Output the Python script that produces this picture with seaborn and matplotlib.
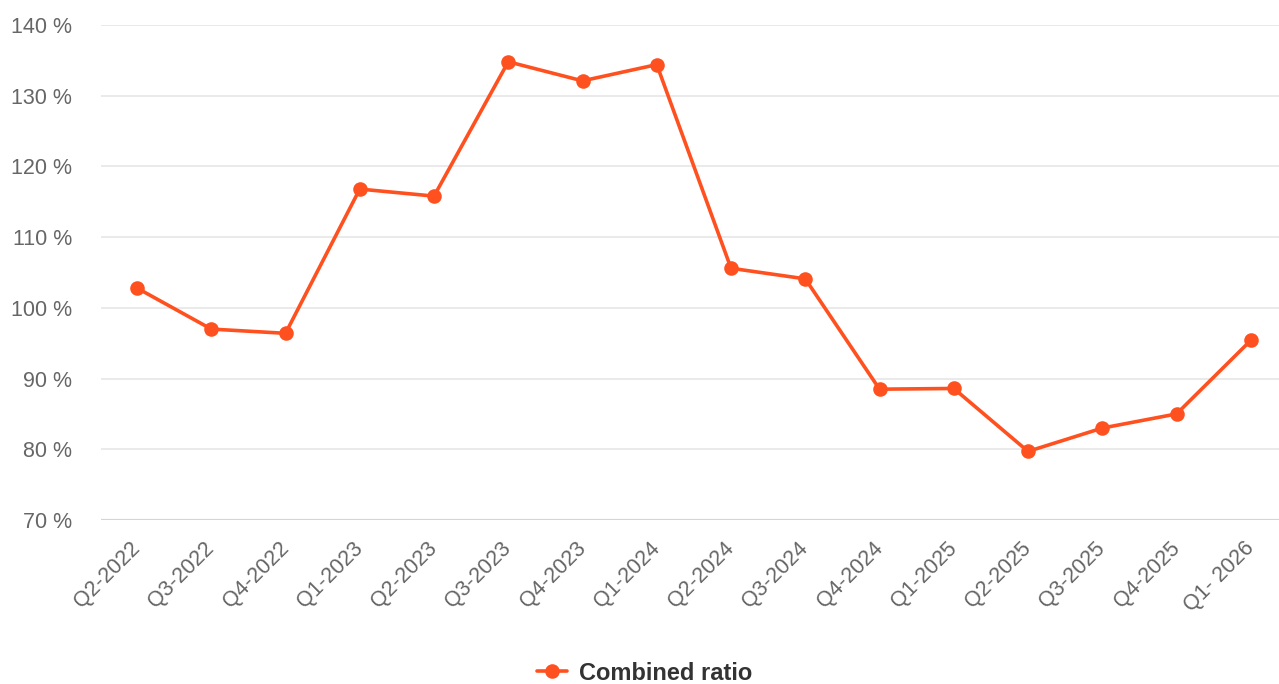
import pandas as pd
import seaborn as sns
import matplotlib.pyplot as plt

# Quarterly combined ratio values (%)
quarters = ["Q2-2022", "Q3-2022", "Q4-2022", "Q1-2023", "Q2-2023", "Q3-2023",
            "Q4-2023", "Q1-2024", "Q2-2024", "Q3-2024", "Q4-2024", "Q1-2025",
            "Q2-2025", "Q3-2025", "Q4-2025", "Q1- 2026"]
combined_ratio = [102.8, 97.0, 96.4, 116.8, 115.8, 134.8, 132.1, 134.4,
                  105.6, 104.1, 88.5, 88.6, 79.7, 83.0, 85.0, 95.4]
y_ticks = [70, 80, 90, 100, 110, 120, 130, 140]

df = pd.DataFrame({"quarter": quarters, "ratio": combined_ratio})

sns.set_style("white")
plt.rcParams["font.family"] = ["Liberation Sans", "DejaVu Sans"]

color = "#ff5120"
fig = plt.figure(figsize=(12.79, 6.84), dpi=100)
ax = fig.add_axes([101 / 1279, 1 - 520 / 684, 1178 / 1279, 495 / 684])

sns.lineplot(data=df, x="quarter", y="ratio", sort=False, ax=ax, color=color,
             linewidth=2.6, marker="o", markersize=10.5, markeredgewidth=0,
             label="Combined ratio", zorder=3)

ax.set_ylim(70, 140)
ax.set_yticks(y_ticks)
ax.set_yticklabels([f"{v} %" for v in y_ticks])
ax.set_xlim(-0.485, 15.38)
ax.set_xlabel("")
ax.set_ylabel("")

# grid lines and baseline
for v in y_ticks[1:]:
    ax.axhline(v, color="#e6e6e6", linewidth=1.2, zorder=0)
ax.axhline(70, color="#ccd6eb", linewidth=1.6, zorder=1)

for s in ax.spines.values():
    s.set_visible(False)

ax.tick_params(axis="y", length=0, pad=21, labelsize=15.5, labelcolor="#666666")
ax.tick_params(axis="x", length=0, pad=18, labelsize=15.5, labelcolor="#666666")
for lab in ax.get_xticklabels():
    lab.set_rotation(45)
    lab.set_horizontalalignment("right")
    lab.set_rotation_mode("anchor")
    lab.set_verticalalignment("center")

leg = ax.legend(loc="center", bbox_to_anchor=(0.504, 0.016),
                bbox_transform=fig.transFigure, frameon=False, handlelength=1.3,
                handletextpad=0.5, prop={"weight": "bold", "size": 17})
for t in leg.get_texts():
    t.set_color("#333333")

fig.savefig("out.png", dpi=100)
